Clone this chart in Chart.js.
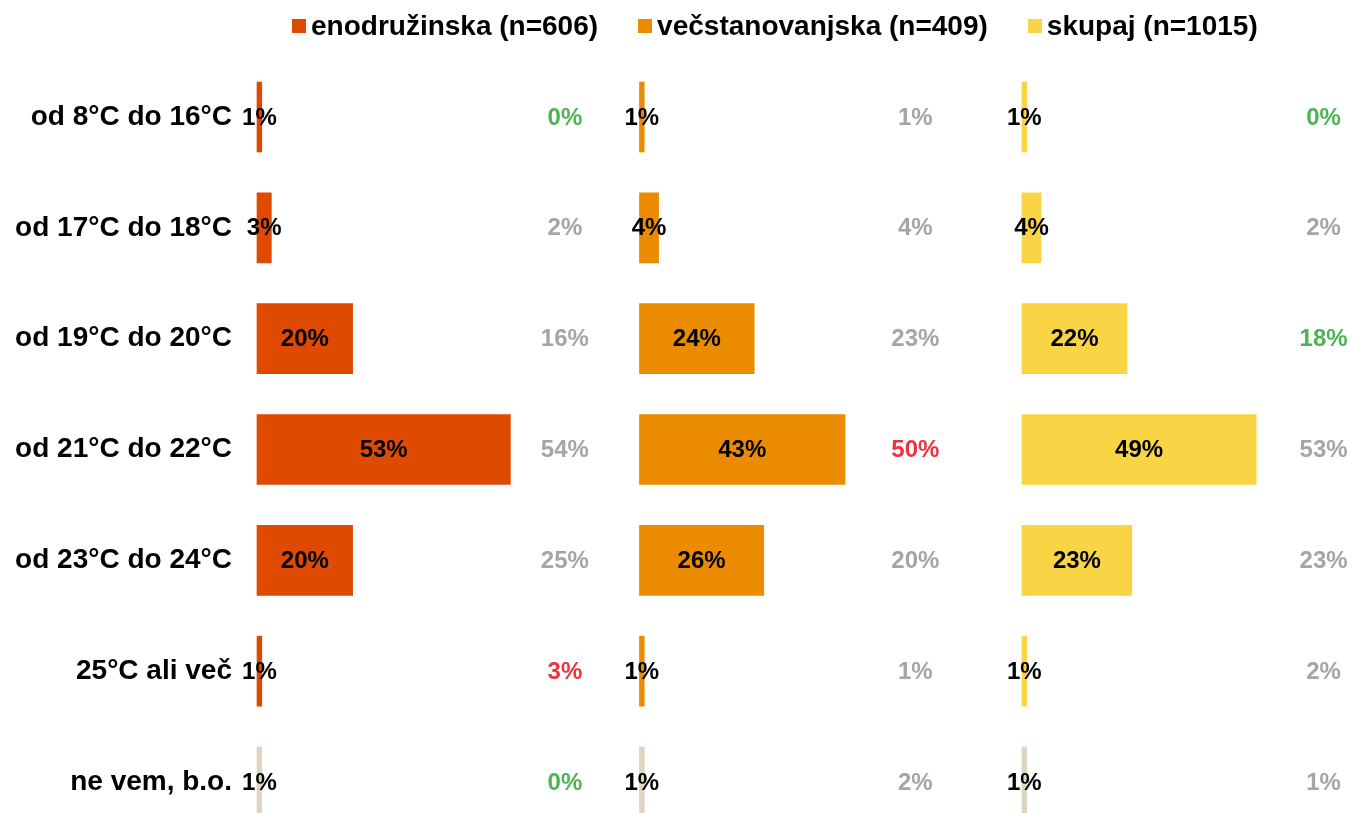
<!DOCTYPE html>
<html>
<head>
<meta charset="utf-8">
<script src="https://cdn.jsdelivr.net/npm/chart.js@4.4.0/dist/chart.umd.min.js"></script>
<style>
  html, body { margin:0; padding:0; background:#fff; }
  #wrap { width:1354px; height:813px; position:relative; }
  #legend { position:absolute; left:292px; top:10px; display:flex; align-items:center;
            font:bold 28px 'Liberation Sans', Arial, sans-serif; color:#000; white-space:nowrap; }
  #legend .item { display:flex; align-items:center; margin-right:40px; }
  #legend .box { width:14px; height:14px; margin-right:5px; }
</style>
</head>
<body>
<div id="wrap">
  <canvas id="chart"></canvas>
  <div id="legend"></div>
</div>
<script>
// ---- data ----
const categories = ['od 8°C do 16°C', 'od 17°C do 18°C', 'od 19°C do 20°C', 'od 21°C do 22°C', 'od 23°C do 24°C', '25°C ali več', 'ne vem, b.o.'];
const seriesNames = ['enodružinska (n=606)', 'večstanovanjska (n=409)', 'skupaj (n=1015)'];

const enodruzinska    = [1, 3, 20, 53, 20, 1, 1];
const vecstanovanjska = [1, 4, 24, 43, 26, 1, 1];
const skupaj          = [1, 4, 22, 49, 23, 1, 1];

// primerjava (desni stolpec v vsakem panelu)
const primEnodruzinska    = [0, 2, 16, 54, 25, 3, 0];
const primVecstanovanjska = [1, 4, 23, 50, 20, 1, 2];
const primSkupaj          = [0, 2, 18, 53, 23, 2, 1];

// statisticna razlika: -1 nizje, 0 ni razlike, 1 visje
const sigEnodruzinska    = [-1, 0, 0, 0, 0, 1, -1];
const sigVecstanovanjska = [0, 0, 0, 1, 0, 0, 0];
const sigSkupaj          = [-1, 0, -1, 0, 0, 0, 0];

// ---- look ----
const FONT = "'Liberation Sans', Arial, sans-serif";
const colors = ['#DE4A00', '#EB8C00', '#F9D545'];
const noAnswerColor = '#DDD6C1';
const sigColors = { '-1': '#4DB354', '0': '#A5A5A8', '1': '#EE3340' };
const PANEL = 80;            // sirina enega panela v enotah osi x
const compAt = [64.4, 57.7, 63.1]; // kje (znotraj panela) stoji primerjalna vrednost

const panels = [enodruzinska, vecstanovanjska, skupaj];
const comps = [primEnodruzinska, primVecstanovanjska, primSkupaj];
const sigs = [sigEnodruzinska, sigVecstanovanjska, sigSkupaj];

// legenda
const legendEl = document.getElementById('legend');
seriesNames.forEach((n, i) => {
  const it = document.createElement('div');
  it.className = 'item';
  it.innerHTML = `<span class="box" style="background:${colors[i]}"></span><span>${n}</span>`;
  legendEl.appendChild(it);
});

const datasets = panels.map((vals, p) => ({
  label: seriesNames[p],
  data: vals.map(v => [p * PANEL, p * PANEL + v]),
  backgroundColor: c => c.dataIndex === categories.length - 1 ? noAnswerColor : colors[p],
  borderWidth: 0,
  barThickness: 70,
  grouped: false,
  clip: false
}));

// labels inside bars + comparison column
const labelPlugin = {
  id: 'labels',
  afterDatasetsDraw(chart){
    const ctx = chart.ctx;
    const x = chart.scales.x, y = chart.scales.y;
    ctx.save();
    ctx.textBaseline = 'middle';
    ctx.textAlign = 'center';
    ctx.font = 'bold 24px ' + FONT;
    panels.forEach((vals, p) => {
      vals.forEach((v, i) => {
        const yy = y.getPixelForValue(i);
        const mid = (x.getPixelForValue(p * PANEL) + x.getPixelForValue(p * PANEL + v)) / 2;
        ctx.fillStyle = '#000';
        ctx.fillText(v + '%', mid, yy + 1);
        ctx.fillStyle = sigColors[String(sigs[p][i])];
        ctx.fillText(comps[p][i] + '%', x.getPixelForValue(p * PANEL + compAt[p]), yy + 1);
      });
    });
    ctx.restore();
  }
};

new Chart(document.getElementById('chart'), {
  type: 'bar',
  data: { labels: categories, datasets },
  options: {
    indexAxis: 'y',
    responsive: true,
    maintainAspectRatio: false,
    animation: false,
    layout: { padding: { top: 117, right: 61, bottom: 31, left: 0 } },
    scales: {
      x: { display: false, min: 0, max: 216.7 },
      y: {
        offset: false,
        grid: { display: false },
        border: { display: false },
        afterFit(s){ s.width = 257; s.paddingTop = 0; s.paddingBottom = 0; },
        ticks: { color: '#000', padding: 17, font: { family: FONT, size: 28, weight: 'bold' } }
      }
    },
    plugins: {
      tooltip: { enabled: false },
      legend: { display: false }
    }
  },
  plugins: [labelPlugin]
});
</script>
</body>
</html>
